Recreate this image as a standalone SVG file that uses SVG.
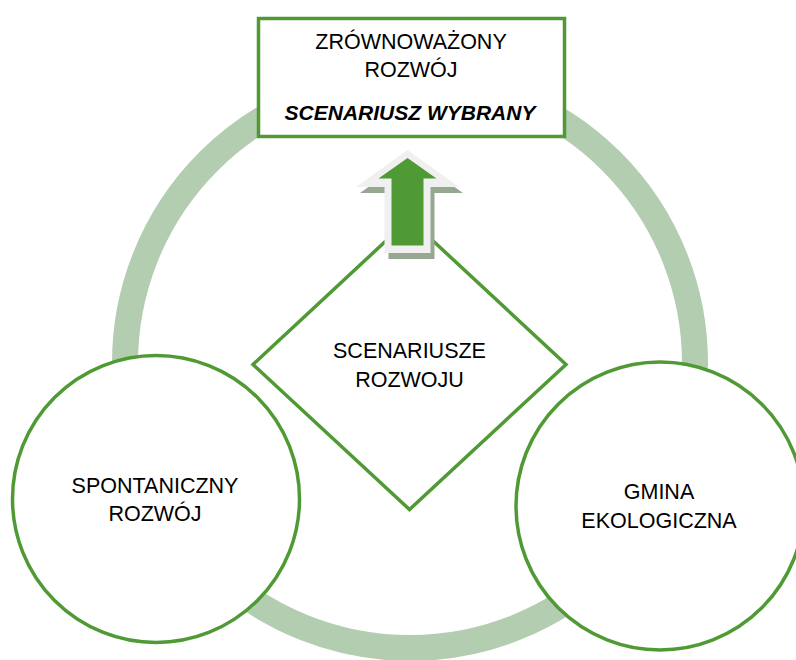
<svg xmlns="http://www.w3.org/2000/svg" width="796" height="660" viewBox="0 0 796 660">
<style>
.node{fill:#ffffff;stroke:#4f9a34;stroke-width:3.5}
.t{font-family:"Liberation Sans",Arial,sans-serif;font-size:21.5px;fill:#000;text-anchor:middle}
.bi{font-weight:bold;font-style:italic;font-size:21px}
</style>
<rect width="796" height="660" fill="#ffffff"/>
<g id="connectors">
<circle cx="410" cy="363" r="285" fill="none" stroke="#b3cdb1" stroke-width="26"/>
</g>
<g id="box-zrownowazony">
<rect class="node" x="258.5" y="18.5" width="306" height="118" stroke-width="3"/>
<text class="t" x="411" y="49.3" font-size="22">ZRÓWNOWAŻONY</text>
<text class="t" x="411" y="76.7" font-size="22">ROZWÓJ</text>
<text class="t bi" x="410" y="120">SCENARIUSZ WYBRANY</text>
</g>
<g id="circle-spontaniczny">
<circle class="node" cx="156" cy="499" r="143.5"/>
<text class="t" x="155" y="492.7">SPONTANICZNY</text>
<text class="t" x="155" y="521">ROZWÓJ</text>
</g>
<g id="circle-gmina">
<circle class="node" cx="660" cy="506" r="144"/>
<text class="t" x="659" y="499">GMINA</text>
<text class="t" x="659" y="528.3">EKOLOGICZNA</text>
</g>
<g id="diamond-scenariusze">
<polygon class="node" points="409.5,219 566,364.5 409.5,509.5 253,364.5"/>
<text class="t" x="409.5" y="358.3" font-size="21">SCENARIUSZE</text>
<text class="t" x="409.5" y="386.7" font-size="21">ROZWOJU</text>
</g>
<g id="arrow-up">
<polygon fill="#97a892" points="411.5,156 463,193 434.5,193 434.5,259 388.5,259 388.5,193 360,193"/>
<polygon fill="#f0f0f0" points="407.5,150 459,187 430.5,187 430.5,253 384.5,253 384.5,187 356,187"/>
<polygon fill="#4f9a34" points="407.5,158 436.5,178.5 423.5,178.5 423.5,245.5 391.5,245.5 391.5,178.5 378.5,178.5"/>
</g>
</svg>
